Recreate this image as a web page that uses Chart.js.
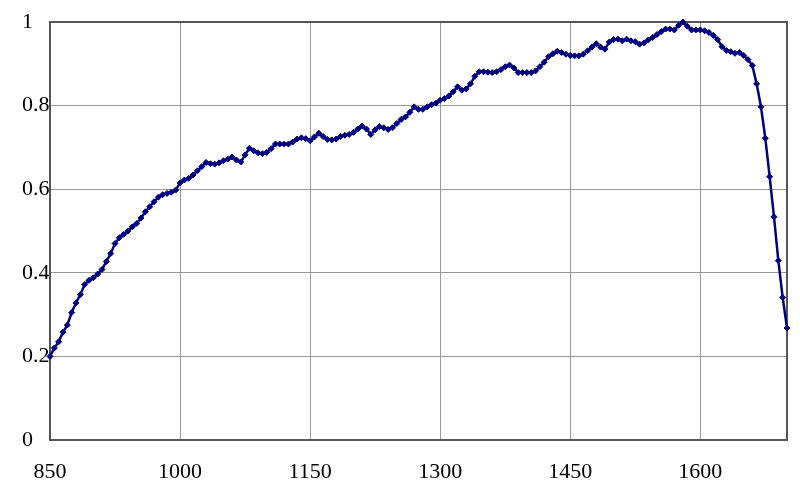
<!DOCTYPE html>
<html>
<head>
<meta charset="utf-8">
<script src="https://cdn.jsdelivr.net/npm/chart.js@4/dist/chart.umd.min.js"></script>
<style>
  html, body { margin: 0; padding: 0; background: #fff; }
  #wrap { width: 800px; height: 496px; }
</style>
</head>
<body>
<div id="wrap"><canvas id="chart" width="800" height="496"></canvas></div>
<script>
// wavelength (nm), one reading every 5 nm
const wavelengths = [
  850, 855, 860, 865, 870, 875, 880, 885, 890, 895,
  900, 905, 910, 915, 920, 925, 930, 935, 940, 945,
  950, 955, 960, 965, 970, 975, 980, 985, 990, 995,
  1000, 1005, 1010, 1015, 1020, 1025, 1030, 1035, 1040, 1045,
  1050, 1055, 1060, 1065, 1070, 1075, 1080, 1085, 1090, 1095,
  1100, 1105, 1110, 1115, 1120, 1125, 1130, 1135, 1140, 1145,
  1150, 1155, 1160, 1165, 1170, 1175, 1180, 1185, 1190, 1195,
  1200, 1205, 1210, 1215, 1220, 1225, 1230, 1235, 1240, 1245,
  1250, 1255, 1260, 1265, 1270, 1275, 1280, 1285, 1290, 1295,
  1300, 1305, 1310, 1315, 1320, 1325, 1330, 1335, 1340, 1345,
  1350, 1355, 1360, 1365, 1370, 1375, 1380, 1385, 1390, 1395,
  1400, 1405, 1410, 1415, 1420, 1425, 1430, 1435, 1440, 1445,
  1450, 1455, 1460, 1465, 1470, 1475, 1480, 1485, 1490, 1495,
  1500, 1505, 1510, 1515, 1520, 1525, 1530, 1535, 1540, 1545,
  1550, 1555, 1560, 1565, 1570, 1575, 1580, 1585, 1590, 1595,
  1600, 1605, 1610, 1615, 1620, 1625, 1630, 1635, 1640, 1645,
  1650, 1655, 1660, 1665, 1670, 1675, 1680, 1685, 1690, 1695,
  1700
];

// normalised response
const response = [
  0.200, 0.220, 0.235, 0.258, 0.275, 0.305, 0.328, 0.348, 0.372, 0.382,
  0.388, 0.397, 0.408, 0.427, 0.446, 0.470, 0.484, 0.492, 0.500, 0.510,
  0.518, 0.531, 0.546, 0.558, 0.570, 0.581, 0.587, 0.590, 0.593, 0.598,
  0.615, 0.622, 0.626, 0.634, 0.644, 0.654, 0.664, 0.661, 0.660, 0.663,
  0.668, 0.672, 0.677, 0.670, 0.665, 0.682, 0.698, 0.692, 0.687, 0.685,
  0.688, 0.697, 0.708, 0.708, 0.708, 0.708, 0.713, 0.720, 0.723, 0.721,
  0.716, 0.725, 0.734, 0.726, 0.719, 0.718, 0.720, 0.726, 0.729, 0.731,
  0.736, 0.744, 0.751, 0.744, 0.731, 0.742, 0.750, 0.747, 0.743, 0.747,
  0.757, 0.767, 0.773, 0.784, 0.797, 0.791, 0.791, 0.797, 0.802, 0.806,
  0.813, 0.817, 0.823, 0.833, 0.845, 0.837, 0.840, 0.852, 0.870, 0.881,
  0.881, 0.880, 0.879, 0.881, 0.886, 0.893, 0.897, 0.890, 0.879, 0.879,
  0.879, 0.879, 0.883, 0.893, 0.904, 0.917, 0.924, 0.930, 0.927, 0.923,
  0.920, 0.919, 0.919, 0.923, 0.931, 0.940, 0.948, 0.940, 0.935, 0.952,
  0.958, 0.959, 0.955, 0.959, 0.955, 0.953, 0.947, 0.950, 0.957, 0.963,
  0.970, 0.977, 0.983, 0.983, 0.981, 0.992, 1.000, 0.990, 0.981, 0.981,
  0.981, 0.979, 0.975, 0.968, 0.958, 0.941, 0.932, 0.929, 0.925, 0.927,
  0.920, 0.910, 0.896, 0.852, 0.797, 0.722, 0.630, 0.534, 0.429, 0.341,
  0.268
];

const xTicks = [850, 1000, 1150, 1300, 1450, 1600];
const yTicks = [0, 0.2, 0.4, 0.6, 0.8, 1];

const points = wavelengths.map((w, i) => ({ x: w, y: response[i] }));

const tickFont = { family: "'Liberation Serif', 'DejaVu Serif', serif", size: 22 };

// frame round the plot area, drawn under the line
const frame = {
  id: "frame",
  beforeDatasetsDraw(chart) {
    const { ctx, chartArea: a } = chart;
    ctx.save();
    ctx.strokeStyle = "#555";
    ctx.lineWidth = 2;
    ctx.strokeRect(a.left, a.top, a.right - a.left, a.bottom - a.top);
    ctx.restore();
  }
};

new Chart(document.getElementById("chart").getContext("2d"), {
  type: "line",
  data: {
    datasets: [{
      data: points,
      borderColor: "#000080",
      backgroundColor: "#000080",
      borderWidth: 2.5,
      pointStyle: "rectRot",
      pointRadius: 3,
      pointBorderWidth: 1,
      tension: 0,
      clip: false
    }]
  },
  options: {
    responsive: false,
    animation: false,
    layout: { padding: { top: 22, right: 13, left: 22, bottom: 0 } },
    plugins: { legend: { display: false }, tooltip: { enabled: false } },
    scales: {
      x: {
        type: "linear",
        min: 850,
        max: 1700,
        afterBuildTicks: s => { s.ticks = xTicks.map(v => ({ value: v })); },
        afterFit: s => { s.height = 56; },
        grid: { color: "#999", lineWidth: 1, drawTicks: false },
        border: { color: "#555", width: 2 },
        ticks: {
          padding: 19,
          maxRotation: 0,
          color: "#000",
          font: tickFont,
          callback: v => String(v)
        }
      },
      y: {
        min: 0,
        max: 1,
        afterBuildTicks: s => { s.ticks = yTicks.map(v => ({ value: v })); },
        afterFit: s => { s.width = 28; },
        grid: { color: "#999", lineWidth: 1, drawTicks: false },
        border: { color: "#555", width: 2 },
        ticks: {
          padding: 0,
          crossAlign: "far",
          color: "#000",
          font: tickFont,
          callback: v => String(v)
        }
      }
    }
  },
  plugins: [frame]
});
</script>
</body>
</html>
